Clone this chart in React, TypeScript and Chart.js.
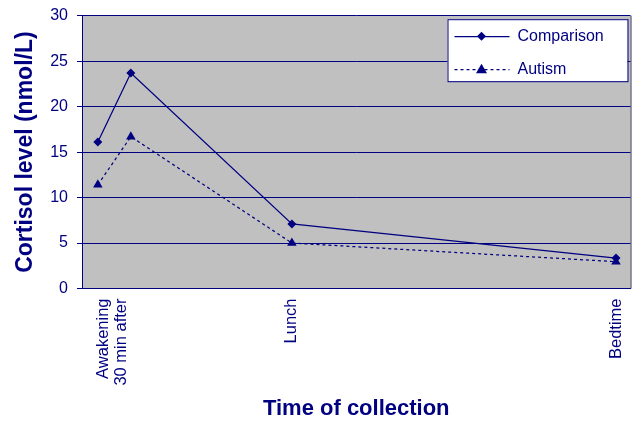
import React, { useEffect, useRef } from "react";
import { Chart, registerables } from "chart.js";

Chart.register(...registerables);

const seriesNames = ["Comparison", "Autism"];
const xPositions = [0.24, 0.74, 3.18, 8.09];
const comparisonValues = [16.1, 23.7, 7.1, 3.35];
const autismValues = [11.4, 16.7, 5.0, 2.95];
const tickPositions = [0.33, 3.18, 8.09];
const tickLabels: (string | string[])[] = [["Awakening", "30 min after"], "Lunch", "Bedtime"];
const yTitle = "Cortisol level (nmol/L)";
const xTitle = "Time of collection";

const NAVY = "#000080";
const FONT = "'Liberation Sans', Arial, sans-serif";

const bgPlugin = {
  id: "bgPlugin",
  beforeDraw(chart: any) {
    const { ctx, chartArea: a } = chart;
    ctx.save();
    ctx.fillStyle = "#c0c0c0";
    ctx.fillRect(a.left, a.top, a.right - a.left, a.bottom - a.top);
    ctx.restore();
  },
  afterDatasetsDraw(chart: any) {
    const { ctx, chartArea: a } = chart;
    ctx.save();
    ctx.strokeStyle = "#333355";
    ctx.lineWidth = 1;
    ctx.beginPath();
    ctx.moveTo(a.right + 0.5, a.top);
    ctx.lineTo(a.right + 0.5, a.bottom);
    ctx.stroke();
    ctx.restore();
  },
};

function drawDiamond(ctx: CanvasRenderingContext2D, x: number, y: number, r: number) {
  ctx.beginPath();
  ctx.moveTo(x, y - r);
  ctx.lineTo(x + r, y);
  ctx.lineTo(x, y + r);
  ctx.lineTo(x - r, y);
  ctx.closePath();
  ctx.fill();
}
function drawTriangle(ctx: CanvasRenderingContext2D, x: number, y: number, r: number) {
  ctx.beginPath();
  ctx.moveTo(x, y - r);
  ctx.lineTo(x + r, y + r * 0.75);
  ctx.lineTo(x - r, y + r * 0.75);
  ctx.closePath();
  ctx.fill();
}

const legendPlugin = {
  id: "customLegend",
  afterDraw(chart: any) {
    const { ctx, chartArea: a } = chart;
    const w = 180;
    const h = 62;
    const x = a.right - 3 - w;
    const y = a.top + 3.5;
    ctx.save();
    ctx.fillStyle = "#ffffff";
    ctx.fillRect(x, y, w, h);
    ctx.strokeStyle = NAVY;
    ctx.lineWidth = 1;
    ctx.strokeRect(x + 0.5, y + 0.5, w, h);
    const rows = [y + 17, y + 50];
    ctx.fillStyle = NAVY;
    ctx.strokeStyle = NAVY;
    ctx.lineWidth = 1.25;
    ctx.font = `16px ${FONT}`;
    ctx.textBaseline = "middle";
    ctx.textAlign = "left";
    seriesNames.forEach((name, i) => {
      const ry = rows[i];
      ctx.beginPath();
      ctx.setLineDash(i === 0 ? [] : [3, 3]);
      ctx.moveTo(x + 7, ry + 0.5);
      ctx.lineTo(x + 62, ry + 0.5);
      ctx.stroke();
      ctx.setLineDash([]);
      if (i === 0) drawDiamond(ctx, x + 34, ry, 4.5);
      else drawTriangle(ctx, x + 34, ry, 5.5);
      ctx.fillText(name, x + 70, ry);
    });
    ctx.restore();
  },
};

export default function App() {
  const ref = useRef<HTMLCanvasElement | null>(null);
  useEffect(() => {
    document.body.style.margin = "0";
    const canvas = ref.current!;
    const chart = new Chart(canvas, {
      type: "line",
      data: {
        datasets: [
          {
            label: seriesNames[0],
            data: xPositions.map((x, i) => ({ x, y: comparisonValues[i] })),
            borderColor: NAVY,
            backgroundColor: NAVY,
            borderWidth: 1.25,
            pointStyle: "rectRot",
            pointRadius: 4.5,
            pointBorderWidth: 0,
            tension: 0,
          },
          {
            label: seriesNames[1],
            data: xPositions.map((x, i) => ({ x, y: autismValues[i] })),
            borderColor: NAVY,
            backgroundColor: NAVY,
            borderWidth: 1.25,
            borderDash: [3, 3],
            pointStyle: "triangle",
            pointRadius: 5.5,
            pointBorderWidth: 0,
            tension: 0,
          },
        ],
      },
      options: {
        responsive: false,
        animation: false,
        events: [],
        layout: { padding: { top: 15.7, right: 2.5, bottom: 0, left: 0 } },
        plugins: { legend: { display: false }, tooltip: { enabled: false } },
        scales: {
          x: {
            type: "linear",
            min: 0,
            max: 8.31,
            afterBuildTicks: (scale: any) => {
              scale.ticks = tickPositions.map((v) => ({ value: v }));
            },
            afterFit: (scale: any) => {
              scale.height = 134.5;
            },
            grid: { display: false },
            border: { display: true, color: NAVY, width: 1 },
            ticks: {
              autoSkip: false,
              minRotation: 90,
              maxRotation: 90,
              padding: 2,
              color: NAVY,
              font: { family: FONT, size: 16.5, lineHeight: 1.05 },
              callback: (_v: any, i: number) => tickLabels[i],
            },
            title: {
              display: true,
              text: xTitle,
              color: NAVY,
              font: { family: FONT, size: 22, weight: "bold" },
              padding: { top: 0, bottom: 1 },
            },
          },
          y: {
            min: 0,
            max: 30,
            afterFit: (scale: any) => {
              scale.width = 82;
            },
            grid: { color: NAVY, lineWidth: 1, tickLength: 5, drawTicks: true },
            border: { display: true, color: NAVY, width: 1 },
            ticks: {
              stepSize: 5,
              padding: 9,
              color: NAVY,
              font: { family: FONT, size: 16, lineHeight: 0.8 },
            },
            title: {
              display: true,
              text: yTitle,
              color: NAVY,
              font: { family: FONT, size: 23, weight: "bold" },
              padding: { top: 12, bottom: 0 },
            },
          },
        },
      },
      plugins: [bgPlugin, legendPlugin],
    } as any);
    return () => chart.destroy();
  }, []);
  return (
    <div style={{ width: 636, height: 423 }}>
      <canvas ref={ref} width={636} height={423} />
    </div>
  );
}
